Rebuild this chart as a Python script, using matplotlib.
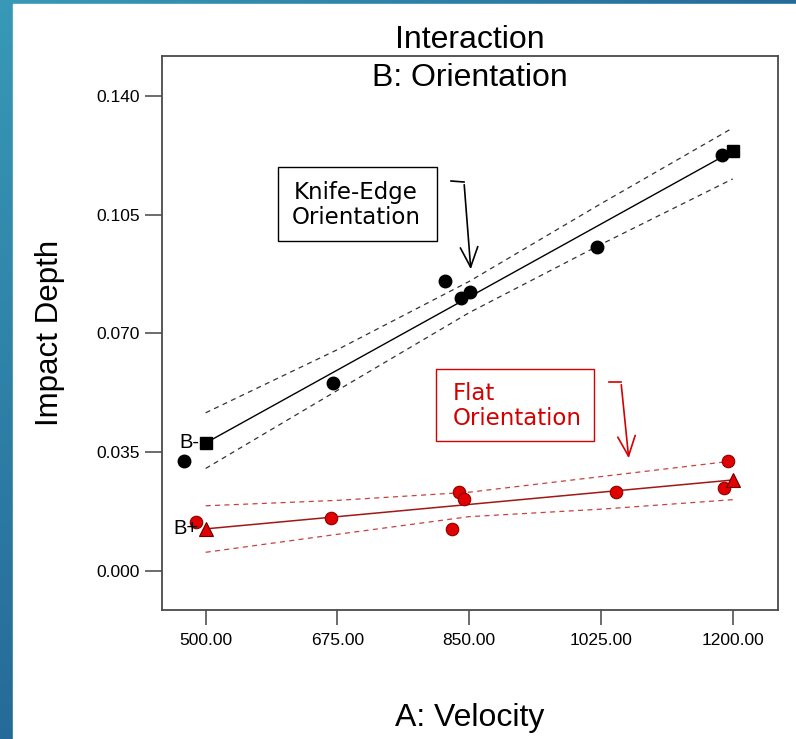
import numpy as np
import matplotlib
matplotlib.use('Agg')
import matplotlib.pyplot as plt
from matplotlib.patches import Rectangle, FancyArrowPatch
from matplotlib.lines import Line2D

# B- : knife-edge orientation
knife_v = [471, 669, 818, 839, 851, 1020, 1186]
knife_d = [0.0324, 0.0554, 0.0854, 0.0804, 0.0822, 0.0954, 0.1225]
knife_end_v = [500, 1200]
knife_end_d = [0.0377, 0.1237]

# B+ : flat orientation
flat_v = [487, 667, 827, 836, 843, 1045, 1194, 1188]
flat_d = [0.0144, 0.0156, 0.0124, 0.0233, 0.0212, 0.0233, 0.0324, 0.0244]
flat_end_v = [500, 1200]
flat_end_d = [0.0124, 0.0268]

# confidence bands
ci_v = [500, 675, 850, 1025, 1200]
knife_hi = [0.0466, 0.0652, 0.0853, 0.1082, 0.1305]
knife_lo = [0.0302, 0.0532, 0.0761, 0.0962, 0.1155]
flat_hi = [0.0192, 0.0208, 0.0232, 0.0278, 0.0324]
flat_lo = [0.0055, 0.0108, 0.0160, 0.0182, 0.0210]

xticks = [500, 675, 850, 1025, 1200]
yticks = [0.000, 0.035, 0.070, 0.105, 0.140]

sans = ['Liberation Sans', 'DejaVu Sans']
boxfont = ['DejaVu Sans']
RED = '#d40000'
DRED = '#a01818'

W, H = 796, 739
fig = plt.figure(figsize=(W / 100, H / 100), dpi=100)

# slide background: blue gradient strip on left/top, white page
bg = fig.add_axes([0, 0, 1, 1], zorder=-10)
gx, gy = np.meshgrid(np.linspace(0, 1, 200), np.linspace(0, 1, 200))
t = np.clip(0.6 * gx + 0.6 * gy, 0, 1)[..., None]
c0 = np.array([0.22, 0.60, 0.72])
c1 = np.array([0.10, 0.30, 0.52])
bg.imshow(c0 * (1 - t) + c1 * t, extent=[0, 1, 0, 1], aspect='auto')
bg.add_patch(Rectangle((13 / W, 0), 1, 1 - 4 / H, color='white'))
bg.set_xlim(0, 1)
bg.set_ylim(0, 1)
bg.axis('off')

ax = fig.add_axes([161.7 / W, 1 - 610 / H, 616 / W, 554.3 / H])
ax.set_xlim(441.6, 1259.8)
ax.set_ylim(-0.0115, 0.1518)

# knife-edge
ax.plot(ci_v, knife_hi, ls=(0, (4, 3.5)), color='#333333', lw=0.9)
ax.plot(ci_v, knife_lo, ls=(0, (4, 3.5)), color='#333333', lw=0.9)
ax.plot(knife_end_v, knife_end_d, color='black', lw=1.0)
ax.plot(knife_v, knife_d, 'o', color='black', ms=9)
ax.plot(knife_end_v, knife_end_d, 's', color='black', ms=9)

# flat
ax.plot(ci_v, flat_hi, ls=(0, (4, 3.5)), color='#c84040', lw=0.9)
ax.plot(ci_v, flat_lo, ls=(0, (4, 3.5)), color='#c84040', lw=0.9)
ax.plot(flat_end_v, flat_end_d, color=DRED, lw=1.1)
ax.plot(flat_v, flat_d, 'o', color='#e00000', mec='#8a0000', mew=0.8, ms=9)
ax.plot(flat_end_v, flat_end_d, '^', color='#e00000', mec='#6a0000', mew=0.8, ms=10)

ax.text(knife_end_v[0] - 9, knife_end_d[0], 'B-', ha='right', va='center',
        fontsize=14.5, family=sans)
ax.text(flat_end_v[0] - 9, flat_end_d[0], 'B+', ha='right', va='center',
        fontsize=14.5, family=sans)

ax.set_xticks(xticks)
ax.set_xticklabels(['%.2f' % v for v in xticks])
ax.set_yticks(yticks)
ax.set_yticklabels(['%.3f' % v for v in yticks])
ax.tick_params(axis='x', direction='out', length=10.8, width=1.1, color='#444444',
               pad=6, labelsize=12.5)
ax.tick_params(axis='y', direction='out', length=12.2, width=1.1, color='#444444',
               pad=3.6, labelsize=12.5)
for lab in ax.get_xticklabels() + ax.get_yticklabels():
    lab.set_family(sans)
for sp in ax.spines.values():
    sp.set_color('#4a4a4a')
    sp.set_linewidth(1.3)

ax.set_xlabel('A: Velocity', fontsize=23, family=sans, va='center')
ax.xaxis.set_label_coords(0.5, -0.195)
ax.set_ylabel('Impact Depth', fontsize=22.5, family=sans, va='center')
ax.yaxis.set_label_coords(-0.181, 0.5)

fig.text(469.7 / W, 1 - 40 / H, 'Interaction', ha='center', va='center',
         fontsize=23, family=sans)
ax.text(0.5, 0.96, 'B: Orientation', transform=ax.transAxes, ha='center',
        va='center', fontsize=23, family=sans)


def px(x, y):
    return (x / W, 1 - y / H)


# annotation boxes
fig.add_artist(Rectangle(px(278, 241), 159 / W, 74 / H, transform=fig.transFigure,
                         fill=False, ec='black', lw=1.0))
fig.text(*px(356, 205), 'Knife-Edge\nOrientation', ha='center', va='center',
         fontsize=16.5, family=boxfont, linespacing=1.1)
fig.add_artist(Rectangle(px(436, 441), 158 / W, 72 / H, transform=fig.transFigure,
                         fill=False, ec=RED, lw=1.0))
fig.text(*px(453, 406), 'Flat\nOrientation', ha='left', va='center', color=RED,
         fontsize=16.5, family=boxfont, linespacing=1.1)

# arrows
fig.add_artist(Line2D([451 / W, 464 / W], [1 - 181 / H, 1 - 182 / H],
                      transform=fig.transFigure, color='black', lw=1.2))
fig.add_artist(FancyArrowPatch(px(464, 182), px(471, 272), transform=fig.transFigure,
                               arrowstyle='->,head_length=0.8,head_width=0.35',
                               mutation_scale=18, color='black', lw=1.2))
fig.add_artist(Line2D([609 / W, 621 / W], [1 - 382 / H, 1 - 382 / H],
                      transform=fig.transFigure, color=RED, lw=1.2))
fig.add_artist(FancyArrowPatch(px(621, 382), px(629, 461), transform=fig.transFigure,
                               arrowstyle='->,head_length=0.8,head_width=0.35',
                               mutation_scale=18, color=RED, lw=1.2))

fig.savefig('out.png', dpi=100)
